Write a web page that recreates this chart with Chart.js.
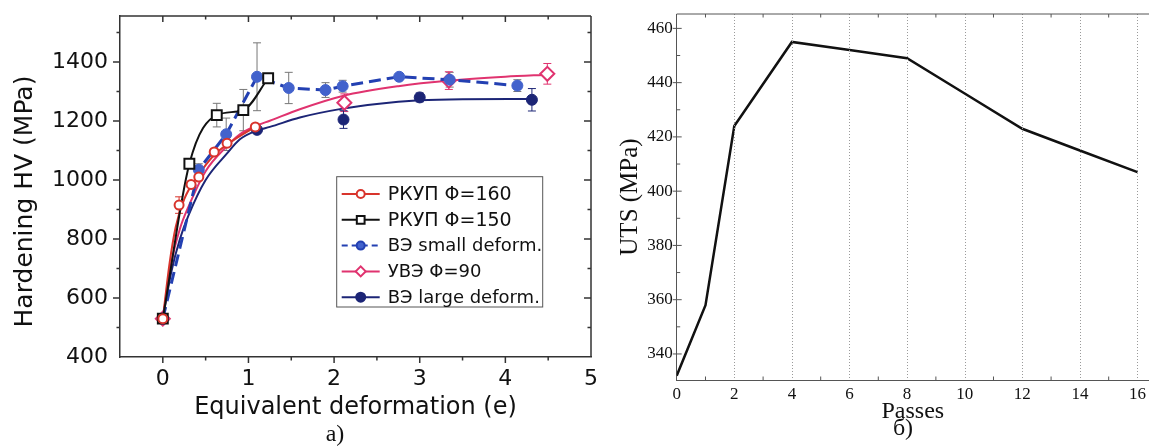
<!DOCTYPE html>
<html>
<head>
<meta charset="utf-8">
<script src="https://cdn.jsdelivr.net/npm/chart.js@4.4.1/dist/chart.umd.min.js"></script>
<style>
  body { margin: 0; background: #fff; width: 1149px; height: 448px; position: relative; overflow: hidden; }
  canvas { position: absolute; top: 0; }
  #hv-chart { left: 0; }
  #uts-chart { left: 605px; }
  .cap { position: absolute; font-family: 'Liberation Serif', serif; font-size: 24px; line-height: 1; color: #111; transform: translate(-50%, -50%); }
</style>
</head>
<body>
<canvas id="hv-chart" width="600" height="448"></canvas>
<canvas id="uts-chart" width="544" height="448"></canvas>
<div class="cap" style="left:335px;top:433px">а)</div>
<div class="cap" style="left:903px;top:427px">б)</div>
<script>
// --- a) hardening vs equivalent deformation ---
const rkup160X = [0, 0.19, 0.33, 0.42, 0.6, 0.75, 1.08];
const rkup160Y = [530, 915, 985, 1010, 1095, 1125, 1180];
const rkup160Err = [0, 28, 0, 0, 0, 0, 0];
const rkup160FitX = [0, 0.08, 0.15, 0.25, 0.4, 0.6, 0.8, 1.08];
const rkup160FitY = [530, 720, 840, 935, 1010, 1085, 1130, 1180];

const rkup150X = [0, 0.31, 0.63, 0.94, 1.23];
const rkup150Y = [530, 1055, 1220, 1237, 1345];
const rkup150Err = [0, 0, 40, 70, 0];

const smallX = [0, 0.42, 0.74, 1.1, 1.47, 1.9, 2.1, 2.76, 3.35, 4.14];
const smallY = [530, 1035, 1155, 1350, 1312, 1305, 1318, 1350, 1340, 1320];
const smallErr = [0, 20, 55, 115, 53, 25, 20, 0, 25, 20];

const uveX = [0, 2.12, 3.34, 4.49];
const uveY = [530, 1262, 1337, 1360];
const uveErr = [0, 30, 30, 35];
const uveFitX = [0, 0.1, 0.2, 0.3, 0.5, 0.75, 0.9, 1.1, 1.25, 1.6, 2.1, 2.75, 3.35, 4.0, 4.5];
const uveFitY = [530, 720, 835, 910, 1030, 1115, 1155, 1185, 1201, 1240, 1285, 1318, 1337, 1350, 1357];

const largeX = [0, 1.1, 2.11, 3.0, 4.31];
const largeY = [530, 1170, 1205, 1280, 1272];
const largeErr = [0, 0, 30, 15, 38];
const largeFitX = [0, 0.1, 0.2, 0.3, 0.5, 0.75, 0.9, 1.1, 1.25, 1.6, 2.1, 2.5, 3.0, 3.5, 4.3];
const largeFitY = [530, 690, 800, 880, 1000, 1090, 1138, 1168, 1180, 1212, 1242, 1258, 1270, 1274, 1275];

const hvTicksY = [400, 600, 800, 1000, 1200, 1400];

// --- б) UTS vs passes ---
const passes = [0, 1, 2, 4, 6, 8, 10, 12, 14, 16];
const uts = [332, 358, 424, 455, 452, 449, 436, 423, 415, 407];

const pts = (xs, ys) => xs.map((x, i) => ({ x, y: ys[i] }));

const RED = '#d8342c', BLACK = '#111', BLUE = '#4262cc', DBLUE = '#2340b2', PINK = '#e0336f', NAVY = '#1c2576';

Chart.defaults.font.family = 'DejaVu Sans';
Chart.defaults.color = '#111';

// keep the plot box where layout.padding puts it (no room added for edge labels)
const noEdgePad = s => { s.paddingTop = 0; s.paddingBottom = 0; s.paddingLeft = 0; s.paddingRight = 0; };

// ticks on all sides of the frame, drawn from the scale ticks
const frameTicks = {
  id: 'frameTicks',
  afterDraw(chart, args, o) {
    const { ctx, chartArea: a, scales: { x, y } } = chart;
    ctx.save();
    if (o.gridX) {
      ctx.strokeStyle = '#9a9a9a';
      ctx.lineWidth = 1;
      ctx.setLineDash([1, 2]);
      x.ticks.forEach(t => {
        if (t.label === '' || t.value <= x.min) return;
        const px = Math.round(x.getPixelForValue(t.value)) + 0.5;
        ctx.beginPath(); ctx.moveTo(px, a.top); ctx.lineTo(px, a.bottom); ctx.stroke();
      });
      ctx.setLineDash([]);
    }
    ctx.strokeStyle = o.color;
    ctx.lineWidth = o.width;
    ctx.beginPath();
    if (o.top) { ctx.moveTo(a.left, a.top); ctx.lineTo(a.right, a.top); }
    if (o.right) { ctx.moveTo(a.right, a.top); ctx.lineTo(a.right, a.bottom); }
    ctx.stroke();
    ctx.beginPath();
    x.ticks.forEach(t => {
      if (t.value <= x.min || t.value >= x.max) return;
      const px = x.getPixelForValue(t.value);
      const major = t.label !== '';
      const len = major ? o.majorX : o.minor;
      if (!len) return;
      ctx.moveTo(px, a.bottom); ctx.lineTo(px, a.bottom + (o.bottomOut ? len : -len));
      if (o.top) { ctx.moveTo(px, a.top); ctx.lineTo(px, a.top + len); }
    });
    y.ticks.forEach(t => {
      if (t.value <= y.min || t.value >= y.max) return;
      const py = y.getPixelForValue(t.value);
      const major = t.label !== '';
      const len = major ? o.majorY : o.minor;
      if (o.leftOut) { ctx.moveTo(a.left, py); ctx.lineTo(a.left - len, py); }
      else { ctx.moveTo(a.left - (major ? o.cross : 0), py); ctx.lineTo(a.left + len, py); }
      if (o.right) { ctx.moveTo(a.right, py); ctx.lineTo(a.right - len, py); }
    });
    ctx.stroke();
    ctx.restore();
  }
};

const errorBars = {
  id: 'errorBars',
  beforeDatasetsDraw(chart) {
    const { ctx, scales: { x, y } } = chart;
    chart.data.datasets.forEach(ds => {
      if (!ds.errors) return;
      ctx.save();
      ctx.strokeStyle = ds.errorColor;
      ctx.lineWidth = 1;
      ds.data.forEach((p, j) => {
        const e = ds.errors[j];
        if (!e) return;
        const px = x.getPixelForValue(p.x);
        const top = y.getPixelForValue(p.y + e), bot = y.getPixelForValue(p.y - e);
        ctx.beginPath();
        ctx.moveTo(px, top); ctx.lineTo(px, bot);
        ctx.moveTo(px - 4, top); ctx.lineTo(px + 4, top);
        ctx.moveTo(px - 4, bot); ctx.lineTo(px + 4, bot);
        ctx.stroke();
      });
      ctx.restore();
    });
  }
};

const boxLegend = {
  id: 'boxLegend',
  afterDraw(chart, args, o) {
    const { ctx } = chart;
    ctx.save();
    ctx.fillStyle = '#fff';
    ctx.fillRect(o.x, o.y, o.w, o.h);
    ctx.strokeStyle = '#555';
    ctx.lineWidth = 1;
    ctx.strokeRect(o.x, o.y, o.w, o.h);
    chart.data.datasets.filter(d => d.legendRank !== undefined)
      .sort((a, b) => a.legendRank - b.legendRank)
      .forEach((d, i) => {
        const cy = o.firstRow + i * o.rowGap;
        ctx.strokeStyle = d.borderColor;
        ctx.lineWidth = 2;
        ctx.setLineDash(d.borderDash ? [6, 4] : []);
        ctx.beginPath(); ctx.moveTo(o.x + 5, cy); ctx.lineTo(o.x + 43, cy); ctx.stroke();
        ctx.setLineDash([]);
        ctx.fillStyle = d.backgroundColor;
        Chart.helpers.drawPoint(ctx, { pointStyle: d.pointStyle, radius: d.legendRadius, borderWidth: 2, rotation: 0 }, o.x + 24, cy);
        ctx.fillStyle = '#111';
        ctx.font = d.legendRank < 2 ? o.bigFont : o.font;
        ctx.textBaseline = 'middle';
        ctx.fillText(d.label, o.x + 51, cy + 1);
      });
    ctx.restore();
  }
};

const sideTitle = {
  id: 'sideTitle',
  afterDraw(chart, args, o) {
    if (!o.text) return;
    const { ctx } = chart;
    ctx.save();
    ctx.translate(o.x, o.y);
    ctx.rotate(-Math.PI / 2);
    ctx.font = o.font;
    ctx.fillStyle = '#111';
    ctx.textAlign = 'center';
    ctx.textBaseline = 'middle';
    ctx.fillText(o.text, 0, 0);
    ctx.restore();
  }
};

new Chart(document.getElementById('hv-chart'), {
  type: 'scatter',
  plugins: [frameTicks, errorBars, boxLegend, sideTitle],
  data: {
    datasets: [
      { label: 'РКУП Φ=160', legendRank: 0, legendRadius: 4, data: pts(rkup160X, rkup160Y), errors: rkup160Err, errorColor: RED,
        pointStyle: 'circle', pointRadius: 4.5, borderColor: RED, backgroundColor: '#fff', borderWidth: 2, order: 0 },
      { label: 'РКУП Φ=150', legendRank: 1, legendRadius: 5.5, data: pts(rkup150X, rkup150Y), errors: rkup150Err, errorColor: '#777',
        showLine: true, cubicInterpolationMode: 'monotone', pointStyle: 'rect', pointRadius: 7,
        borderColor: BLACK, backgroundColor: '#fff', borderWidth: 2, order: 0 },
      { label: 'ВЭ small deform.', legendRank: 2, legendRadius: 4, data: pts(smallX, smallY), errors: smallErr, errorColor: '#777',
        showLine: true, borderDash: [12, 6], borderWidth: 3, borderColor: DBLUE, pointStyle: 'circle', pointRadius: 5.5,
        pointBorderColor: BLUE, pointBorderWidth: 1, backgroundColor: BLUE, order: 0 },
      { label: 'УВЭ Φ=90', legendRank: 3, legendRadius: 5, data: pts(uveX, uveY), errors: uveErr, errorColor: PINK,
        pointStyle: 'rectRot', pointRadius: 7, borderColor: PINK, backgroundColor: '#fff', borderWidth: 2, order: 0 },
      { label: 'ВЭ large deform.', legendRank: 4, legendRadius: 4.5, data: pts(largeX, largeY), errors: largeErr, errorColor: NAVY,
        pointStyle: 'circle', pointRadius: 5.5, borderColor: NAVY, backgroundColor: NAVY, borderWidth: 1, order: 0 },
      { label: 'fit 160', data: pts(rkup160FitX, rkup160FitY), showLine: true, cubicInterpolationMode: 'monotone',
        pointRadius: 0, borderColor: RED, borderWidth: 2, order: 1 },
      { label: 'fit 90', data: pts(uveFitX, uveFitY), showLine: true, cubicInterpolationMode: 'monotone',
        pointRadius: 0, borderColor: PINK, borderWidth: 2, order: 1 },
      { label: 'fit large', data: pts(largeFitX, largeFitY), showLine: true, cubicInterpolationMode: 'monotone',
        pointRadius: 0, borderColor: NAVY, borderWidth: 2, order: 1 },
    ],
  },
  options: {
    responsive: false,
    animation: false,
    events: [],
    layout: { padding: { top: 16, right: 4, left: 0, bottom: 0 } },
    plugins: {
      legend: { display: false },
      tooltip: { enabled: false },
      frameTicks: { color: '#333', width: 1.5, top: true, right: true, bottomOut: true, leftOut: true, majorX: 6, majorY: 7, minor: 3.5 },
      boxLegend: { x: 336.7, y: 176.7, w: 206, h: 130.3, firstRow: 194, rowGap: 25.8,
        font: '18px "DejaVu Sans"', bigFont: '19px "DejaVu Sans"' },
      sideTitle: { text: 'Hardening HV (MPa)', x: 25, y: 201.5, font: '25px "DejaVu Sans"' },
    },
    scales: {
      x: {
        type: 'linear', min: -0.5, max: 5,
        afterFit: s => { s.height = 91; noEdgePad(s); },
        ticks: { stepSize: 0.5, autoSkip: false, includeBounds: false, padding: 9, font: { size: 22 }, maxRotation: 0,
          callback: v => (Number.isInteger(v) ? v : '') },
        grid: { drawOnChartArea: false, drawTicks: false, color: 'rgba(0,0,0,0)' },
        border: { color: '#333', width: 1.5 },
        title: { display: true, text: 'Equivalent deformation (e)', font: { size: 24 }, padding: { bottom: 26 } },
      },
      y: {
        min: 400, max: 1556,
        afterFit: s => { s.width = 120; noEdgePad(s); },
        ticks: { stepSize: 100, autoSkip: false, includeBounds: false, padding: 12, font: { size: 22 },
          callback: v => (hvTicksY.includes(v) ? v : '') },
        grid: { drawOnChartArea: false, drawTicks: false, color: 'rgba(0,0,0,0)' },
        border: { color: '#333', width: 1.5 },
      },
    },
  },
});

new Chart(document.getElementById('uts-chart'), {
  type: 'scatter',
  plugins: [frameTicks],
  data: {
    datasets: [
      { label: 'UTS', data: pts(passes, uts), showLine: true, pointRadius: 0, borderColor: '#111', borderWidth: 2.5 },
    ],
  },
  options: {
    responsive: false,
    animation: false,
    events: [],
    layout: { padding: { top: 14, right: 0, left: 0, bottom: 0 } },
    plugins: {
      legend: { display: false },
      tooltip: { enabled: false },
      frameTicks: { color: '#555', width: 1, top: true, right: false, bottomOut: false, leftOut: false, gridX: true,
        majorX: 0, majorY: 5, minor: 3.5, cross: 4 },
    },
    scales: {
      x: {
        type: 'linear', min: 0, max: 16.4,
        afterFit: s => { s.height = 68; noEdgePad(s); },
        ticks: { stepSize: 1, autoSkip: false, includeBounds: false, padding: 4, maxRotation: 0,
          font: { family: 'Liberation Serif', size: 17 }, callback: v => (v % 2 === 0 ? v : '') },
        grid: { drawOnChartArea: false, drawTicks: false, color: 'rgba(0,0,0,0)' },
        border: { color: '#555', width: 1 },
        title: { display: true, text: 'Passes', font: { family: 'Liberation Serif', size: 24 }, padding: { bottom: 22 } },
      },
      y: {
        min: 330.4, max: 465.3,
        afterFit: s => { s.width = 71.7; noEdgePad(s); },
        ticks: { stepSize: 10, autoSkip: false, includeBounds: false, padding: 4,
          font: { family: 'Liberation Serif', size: 17 }, callback: v => (v % 20 === 0 ? v : '') },
        grid: { drawOnChartArea: false, drawTicks: false, color: 'rgba(0,0,0,0)' },
        border: { color: '#555', width: 1 },
        title: { display: true, text: 'UTS (MPa)', font: { family: 'Liberation Serif', size: 25 }, padding: { top: 10 } },
      },
    },
  },
});
</script>
</body>
</html>
